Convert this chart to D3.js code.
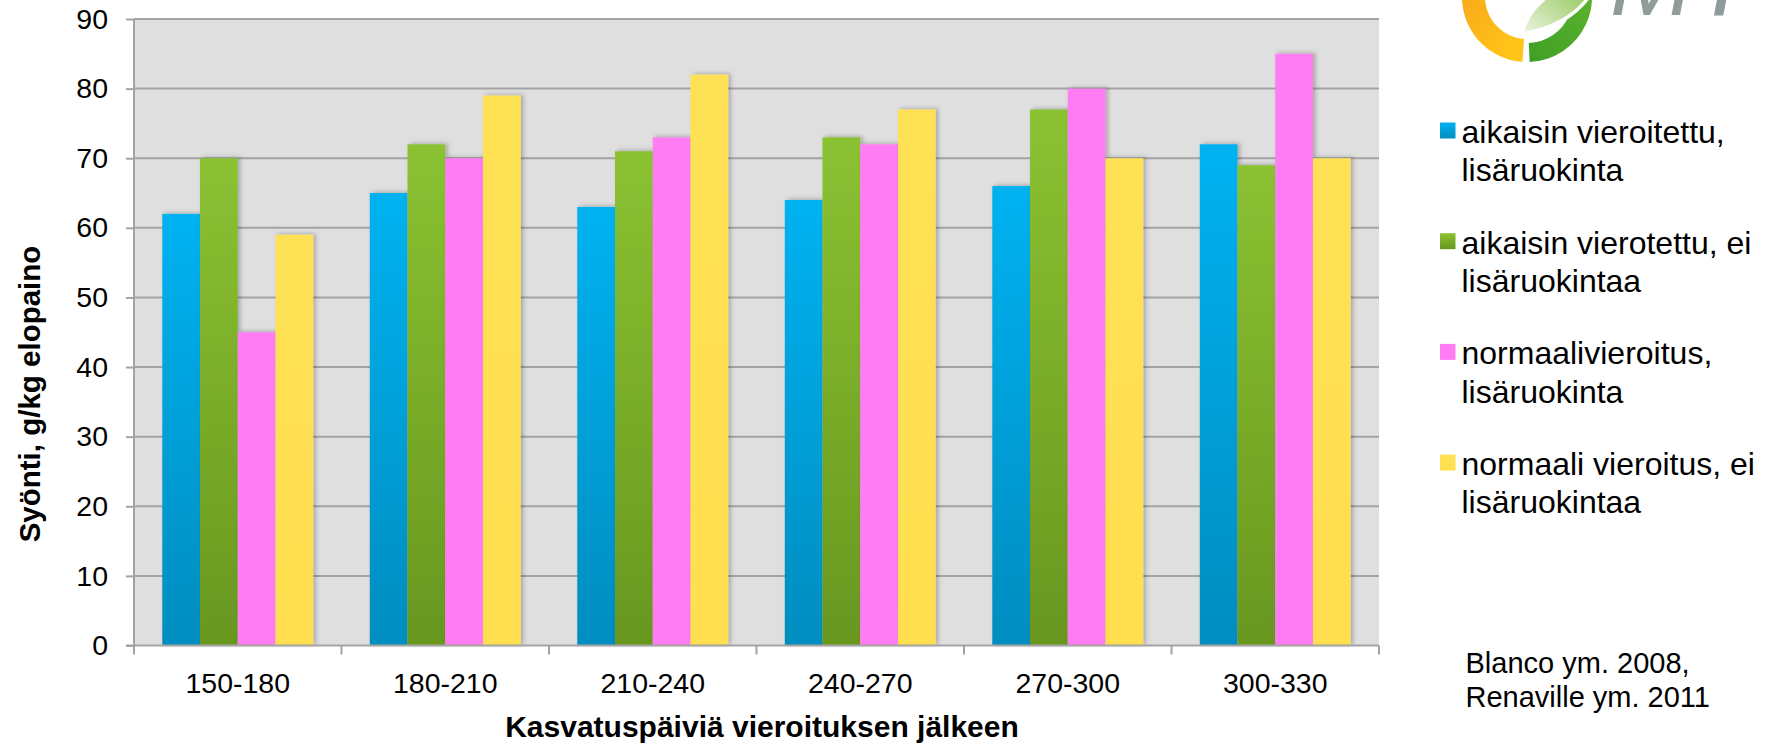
<!DOCTYPE html>
<html>
<head>
<meta charset="utf-8">
<script src="https://cdn.jsdelivr.net/npm/d3@7"></script>
<style>
  body { margin: 0; background: #fff; }
  svg { display: block; font-family: Arial, "Liberation Sans", sans-serif; }
</style>
</head>
<body>
<div id="chart"></div>
<script>
// Data
const categories = ["150-180", "180-210", "210-240", "240-270", "270-300", "300-330"];
const seriesNames = [
  ["aikaisin vieroitettu,", "lisäruokinta"],
  ["aikaisin vierotettu, ei", "lisäruokintaa"],
  ["normaalivieroitus,", "lisäruokinta"],
  ["normaali vieroitus, ei", "lisäruokintaa"]
];
const earlyFed = [62, 65, 63, 64, 66, 72];
const earlyNotFed = [70, 72, 71, 73, 77, 69];
const normalFed = [45, 70, 73, 72, 80, 85];
const normalNotFed = [59, 79, 82, 77, 70, 70];
const yTicks = [0, 10, 20, 30, 40, 50, 60, 70, 80, 90];
const sourceLines = ["Blanco ym. 2008,", "Renaville ym. 2011"];

const seriesValues = [earlyFed, earlyNotFed, normalFed, normalNotFed];

const width = 1766, height = 743;
const plot = { left: 134, right: 1379, top: 19, bottom: 645.5 };
const gridColor = "#a3a3a3";

const svg = d3.select("#chart").append("svg")
  .attr("width", width)
  .attr("height", height);

const defs = svg.append("defs");

// bar gradients (top -> bottom)
const gradStops = [
  ["#00b2f1", "#008dbf"],
  ["#8bc232", "#68971f"],
  ["#ff7cf2", "#ff7cf2"],
  ["#ffe155", "#ffdf4f"]
];
gradStops.forEach((c, i) => {
  const g = defs.append("linearGradient")
    .attr("id", "bar" + i)
    .attr("x1", 0).attr("y1", 0).attr("x2", 0).attr("y2", 1);
  g.append("stop").attr("offset", "0%").attr("stop-color", c[0]);
  g.append("stop").attr("offset", "100%").attr("stop-color", c[1]);
});

const shadow = defs.append("filter").attr("id", "shadow")
  .attr("x", "-20%").attr("y", "-5%").attr("width", "150%").attr("height", "110%");
shadow.append("feDropShadow")
  .attr("dx", 2.5).attr("dy", -1).attr("stdDeviation", 2)
  .attr("flood-color", "#000").attr("flood-opacity", 0.25);

// scales
const x0 = d3.scaleBand()
  .domain(categories)
  .range([plot.left, plot.right]);
const x1 = d3.scaleBand()
  .domain(d3.range(seriesValues.length))
  .range([0, x0.bandwidth()])
  .paddingOuter(0.75);
const y = d3.scaleLinear()
  .domain([0, 90])
  .range([plot.bottom, plot.top]);

// plot background
svg.append("rect")
  .attr("x", plot.left).attr("y", plot.top)
  .attr("width", plot.right - plot.left)
  .attr("height", plot.bottom - plot.top)
  .attr("fill", "#dfdfdf");

// gridlines
svg.append("g")
  .selectAll("line")
  .data(yTicks.filter(d => d > 0))
  .join("line")
  .attr("x1", plot.left).attr("x2", plot.right)
  .attr("y1", d => y(d)).attr("y2", d => y(d))
  .attr("stroke", gridColor)
  .attr("stroke-width", 2);

// bars
const groups = svg.append("g")
  .selectAll("g")
  .data(categories)
  .join("g")
  .attr("transform", d => `translate(${x0(d)},0)`);

groups.selectAll("rect")
  .data((d, ci) => seriesValues.map((vals, si) => ({ si, value: vals[ci] })))
  .join("rect")
  .attr("x", d => x1(d.si))
  .attr("y", d => y(d.value))
  .attr("width", x1.bandwidth())
  .attr("height", d => y(0) - y(d.value))
  .attr("fill", d => `url(#bar${d.si})`)
  .attr("filter", "url(#shadow)");

// y axis
const yAxis = svg.append("g")
  .attr("transform", `translate(${plot.left},0)`)
  .call(d3.axisLeft(y).tickValues(yTicks).tickSize(8).tickPadding(18));
yAxis.select(".domain").attr("stroke", gridColor).attr("stroke-width", 2)
  .attr("d", `M0,${plot.top}V${plot.bottom}`);
yAxis.selectAll(".tick line").attr("stroke", gridColor).attr("stroke-width", 2);
yAxis.selectAll(".tick text")
  .attr("font-size", 28.5)
  .attr("font-family", "Arial, 'Liberation Sans', sans-serif")
  .attr("fill", "#000");

// x axis
const xAxis = svg.append("g")
  .attr("transform", `translate(0,${plot.bottom})`)
  .call(d3.axisBottom(x0).tickSize(0));
xAxis.select(".domain").attr("stroke", gridColor).attr("stroke-width", 2)
  .attr("d", `M${plot.left - 8},0H${plot.right}`);
xAxis.selectAll(".tick text")
  .attr("y", 47.5).attr("dy", null)
  .attr("font-size", 28.5)
  .attr("font-family", "Arial, 'Liberation Sans', sans-serif")
  .attr("fill", "#000");

// x ticks at band edges
const edges = categories.map(c => x0(c)).concat([x0.range()[1]]);
svg.append("g")
  .selectAll("line")
  .data(edges)
  .join("line")
  .attr("x1", d => d).attr("x2", d => d)
  .attr("y1", plot.bottom).attr("y2", plot.bottom + 9)
  .attr("stroke", gridColor)
  .attr("stroke-width", 2);

// axis titles
svg.append("text")
  .attr("x", 762)
  .attr("y", 737)
  .attr("text-anchor", "middle")
  .attr("font-size", 30)
  .attr("font-weight", "bold")
  .text("Kasvatuspäiviä vieroituksen jälkeen");

svg.append("text")
  .attr("transform", "translate(40,394) rotate(-90)")
  .attr("text-anchor", "middle")
  .attr("font-size", 29.5)
  .attr("font-weight", "bold")
  .text("Syönti, g/kg elopaino");

// legend
const legend = svg.append("g")
  .selectAll("g")
  .data(seriesNames)
  .join("g")
  .attr("transform", (d, i) => `translate(1440,${143 + i * 110.7})`);

legend.append("rect")
  .attr("x", 0).attr("y", -20.5)
  .attr("width", 15.5).attr("height", 16)
  .attr("fill", (d, i) => `url(#bar${i})`);

legend.append("text")
  .attr("x", 21.5)
  .attr("font-size", 32)
  .attr("fill", "#000")
  .selectAll("tspan")
  .data(d => d)
  .join("tspan")
  .attr("x", 21.5)
  .attr("dy", (d, i) => i === 0 ? 0 : 38.4)
  .text(d => d);

// source note
svg.append("text")
  .attr("font-size", 29)
  .attr("fill", "#000")
  .selectAll("tspan")
  .data(sourceLines)
  .join("tspan")
  .attr("x", 1465.5)
  .attr("y", (d, i) => 672.5 + i * 34.7)
  .text(d => d);

// logo (top right, cropped by the page edge)
const og = defs.append("linearGradient").attr("id", "logoOrange")
  .attr("x1", 0).attr("y1", 0).attr("x2", 0.6).attr("y2", 1);
og.append("stop").attr("offset", "0%").attr("stop-color", "#f49a1c");
og.append("stop").attr("offset", "100%").attr("stop-color", "#ffc418");
const gg = defs.append("linearGradient").attr("id", "logoGreen")
  .attr("x1", 1).attr("y1", 0).attr("x2", 0).attr("y2", 1);
gg.append("stop").attr("offset", "0%").attr("stop-color", "#62b630");
gg.append("stop").attr("offset", "100%").attr("stop-color", "#3f9f24");
const lg = defs.append("linearGradient").attr("id", "logoLeaf")
  .attr("x1", 0).attr("y1", 1).attr("x2", 1).attr("y2", 0);
lg.append("stop").attr("offset", "0%").attr("stop-color", "#eef6e4");
lg.append("stop").attr("offset", "55%").attr("stop-color", "#a9d27a");
lg.append("stop").attr("offset", "100%").attr("stop-color", "#6db83a");

const logo = svg.append("g").attr("transform", "translate(1527,-3)");
const ring = d3.arc().innerRadius(42).outerRadius(65);
logo.append("path")
  .attr("d", ring({ startAngle: Math.PI + 0.07, endAngle: 2 * Math.PI - 0.3 }))
  .attr("fill", "url(#logoOrange)");
logo.append("path")
  .attr("d", d3.arc().innerRadius(46).outerRadius(65)({ startAngle: 0.9, endAngle: Math.PI - 0.04 }))
  .attr("fill", "url(#logoGreen)");
logo.append("path")
  .attr("d", "M-5,37 Q2,-2 75,-30 Q62,25 -5,37 Z")
  .attr("fill", "url(#logoLeaf)")
  .attr("stroke", "#fff")
  .attr("stroke-width", 3.5);

svg.append("text")
  .attr("x", 1610)
  .attr("y", 15)
  .attr("font-size", 100)
  .attr("font-style", "italic")
  .attr("font-family", "Arial, 'Liberation Sans', sans-serif")
  .attr("fill", "#8f9c9c")
  .text("MTT");
</script>
</body>
</html>
